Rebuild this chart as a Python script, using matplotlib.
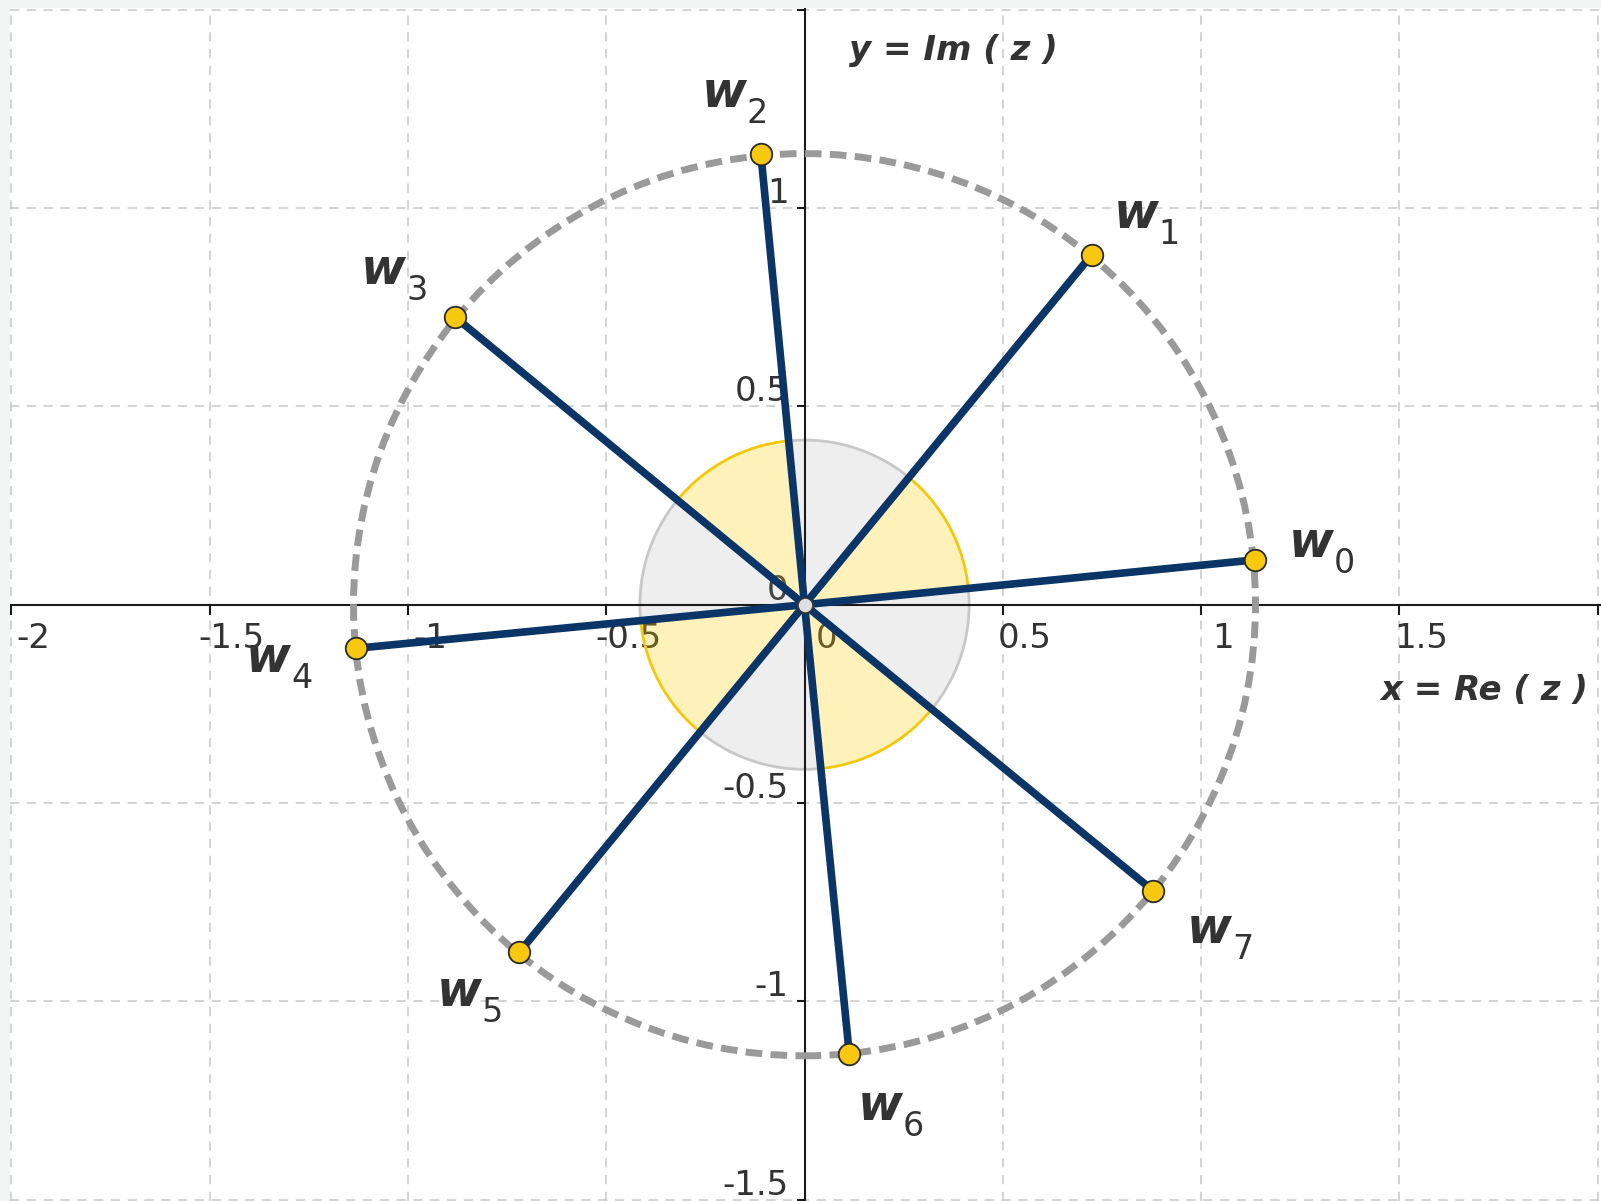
import numpy as np
import matplotlib.pyplot as plt
from matplotlib.patches import Wedge, Arc, Circle
from matplotlib.markers import TICKDOWN, TICKLEFT

# the 8 roots w_0..w_7
root_x = [1.136, 0.724, -0.110, -0.881, -1.131, -0.719, 0.113, 0.879]
root_y = [0.113, 0.882, 1.136, 0.725, -0.110, -0.876, -1.133, -0.721]
root_index = ['0', '1', '2', '3', '4', '5', '6', '7']
circle_r = 1.137      # dashed circle |w|
sector_r = 0.415      # small angle sectors

x_ticks = [-2, -1.5, -1, -0.5, 0, 0.5, 1, 1.5, 2]
x_labels = ['-2', '-1.5', '-1', '-0.5', '0', '0.5', '1', '1.5']
y_ticks = [-1.5, -1, -0.5, 0, 0.5, 1, 1.5]
y_labels = ['-1.5', '-1', '-0.5', '0', '0.5', '1']

# label offsets (pixels) for w_k
label_off = [(34, 3), (22, 27), (-59, 47), (-94, 33),
             (-110, -24), (-83, -54), (8, -66), (34, -52)]

navy = '#0a3566'
txt = '#333333'

fig = plt.figure(figsize=(16.01, 12.01), dpi=100, facecolor='#f3f5f5')
ax = fig.add_axes([10/1601, 0, 1591/1601, 1193/1201])
ax.set_xlim(-2.003, 2.008)
ax.set_ylim(-1.503, 1.504)
ax.set_xticks(x_ticks)
ax.set_yticks(y_ticks)
ax.tick_params(length=0, labelbottom=False, labelleft=False)
for s in ax.spines.values():
    s.set_visible(False)
ax.grid(True, color='#c8c8c8', lw=1.1, ls=(0, (6, 5)))
ax.set_axisbelow(True)

# tick labels
for v, lab in zip(x_ticks, x_labels):
    ax.annotate(lab, (v, 0), xytext=(22, -17), textcoords='offset pixels',
                ha='center', va='top', fontsize=24.5, color=txt, zorder=2)
for v, lab in zip(y_ticks, y_labels):
    ax.annotate(lab, (0, v), xytext=(-16, 5), textcoords='offset pixels',
                ha='right', va='baseline', fontsize=24.5, color=txt, zorder=2)

# sectors between consecutive roots
ang = np.degrees(np.arctan2(root_y, root_x)) % 360
for i in range(len(ang)):
    t1 = ang[i]
    t2 = ang[(i + 1) % len(ang)]
    if t2 < t1:
        t2 += 360
    if i % 2 == 0:
        fc, ec = (1.0, 0.8, 0.0, 0.27), '#f2c80c'
    else:
        fc, ec = (0.6, 0.6, 0.6, 0.16), '#c8c8c8'
    ax.add_patch(Wedge((0, 0), sector_r, t1, t2, facecolor=fc, edgecolor='none', zorder=2.5))
    ax.add_patch(Arc((0, 0), 2*sector_r, 2*sector_r, theta1=t1, theta2=t2,
                     color=ec, lw=2, zorder=2.6))

# axes
ax.axhline(0, color='#1a1a1a', lw=1.5, zorder=3)
ax.axvline(0, color='#1a1a1a', lw=1.5, zorder=3)
ax.plot(x_ticks, [0]*len(x_ticks), ls='none', marker=TICKDOWN, ms=7, mew=1.5,
        color='#1a1a1a', zorder=3)
ax.plot([0]*len(y_ticks), y_ticks, ls='none', marker=TICKLEFT, ms=6, mew=1.5,
        color='#1a1a1a', zorder=3)

ax.add_patch(Circle((0, 0), circle_r, fill=False, ec='#9a9a9a', lw=5,
                    ls=(0, (2.4, 1.2)), zorder=4))

for x, y in zip(root_x, root_y):
    ax.plot([0, x], [0, y], color=navy, lw=5.5, solid_capstyle='round', zorder=5)

ax.plot(root_x, root_y, 'o', ms=15.5, mfc='#f8c80e', mec='#2a2a2a', mew=1.3, zorder=6)
ax.plot([0], [0], 'o', ms=11, mfc='#dedede', mec='#333333', mew=1.3, zorder=6)

for x, y, k, (dx, dy) in zip(root_x, root_y, root_index, label_off):
    ax.annotate('w', (x, y), xytext=(dx, dy), textcoords='offset pixels',
                ha='left', va='baseline', fontsize=35, fontweight='bold',
                style='italic', color=txt, zorder=7)
    ax.annotate(k, (x, y), xytext=(dx + 45, dy - 16), textcoords='offset pixels',
                ha='left', va='baseline', fontsize=24, color=txt, zorder=7)

ax.annotate('x = Re ( z )', xy=(1, 0), xycoords=('axes fraction', 'data'),
            xytext=(-13, -95), textcoords='offset pixels', ha='right', va='baseline',
            fontsize=24.5, fontweight='bold', style='italic', color=txt, zorder=7)
ax.annotate('y = Im ( z )', xy=(0, 1), xycoords=('data', 'axes fraction'),
            xytext=(44, -52), textcoords='offset pixels', ha='left', va='baseline',
            fontsize=24.5, fontweight='bold', style='italic', color=txt, zorder=7)

fig.savefig('out.png', dpi=100, facecolor=fig.get_facecolor())
